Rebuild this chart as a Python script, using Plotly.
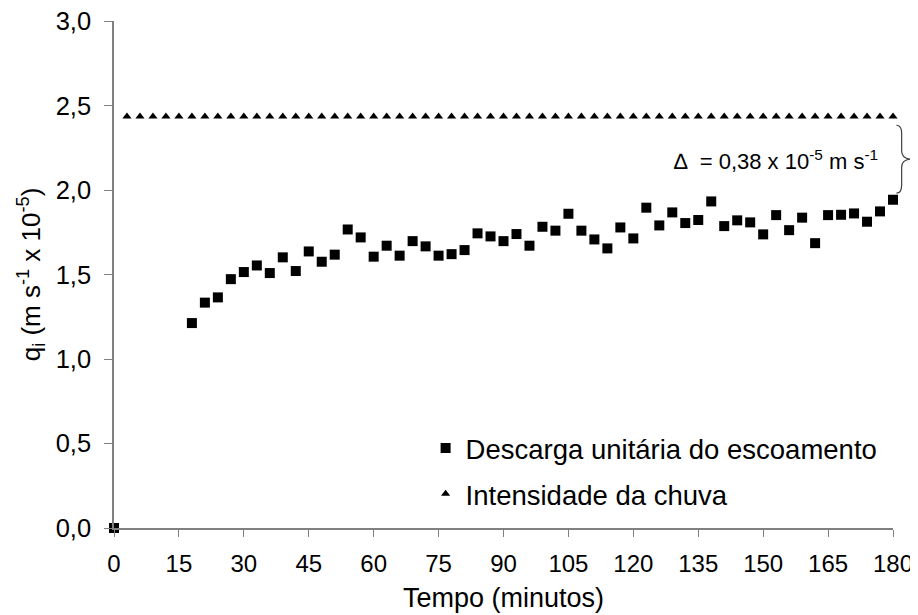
import plotly.graph_objects as go

# ---- data ----
tempo_descarga = [0] + list(range(18, 181, 3))
descarga = [0.0,
            1.213, 1.334, 1.365, 1.473, 1.515, 1.554, 1.509, 1.602, 1.521, 1.637,
            1.576, 1.618, 1.767, 1.720, 1.606, 1.671, 1.612, 1.698,
            1.667, 1.612, 1.621, 1.645, 1.744, 1.726, 1.698, 1.740, 1.671, 1.783,
            1.760, 1.860, 1.760, 1.708, 1.655, 1.779, 1.714, 1.896, 1.791,
            1.868, 1.805, 1.823, 1.933, 1.787, 1.821, 1.809, 1.738, 1.852, 1.763,
            1.837, 1.686, 1.852, 1.854, 1.862, 1.813, 1.874, 1.943]
tempo_chuva = list(range(3, 181, 3))
chuva = [2.435] * len(tempo_chuva)

x_ticks = list(range(0, 181, 15))
y_ticks = [0, 0.5, 1.0, 1.5, 2.0, 2.5, 3.0]

x_max = 180
y_max = 3.0
brace_top = 2.383
brace_bottom = 1.982
delta_label = "∆  = 0,38 x 10<sup>-5</sup> m s<sup>-1</sup>"

FONT = "Liberation Sans, Arial, sans-serif"
AXIS_COLOR = "#808080"

fig = go.Figure()
fig.add_trace(go.Scatter(
    x=tempo_descarga, y=descarga, mode="markers",
    name="Descarga unitária do escoamento",
    marker=dict(symbol="square", size=10, color="black"),
    cliponaxis=False, legendgroup="a"))
fig.add_trace(go.Scatter(
    x=tempo_chuva, y=chuva, mode="markers",
    name="Intensidade da chuva",
    marker=dict(symbol="triangle-up", size=8, color="black"),
    cliponaxis=False, legendgroup="b"))

# brace "}" (paper coordinates so it is not clipped at the plot edge)
px0, px1, px2 = 180.8 / x_max, 182.0 / x_max, 184.4 / x_max
pt, pb = brace_top / y_max, brace_bottom / y_max
pm = (pt + pb) / 2
r = 0.016
path = (f"M {px0},{pt} Q {px1},{pt} {px1},{pt - r} "
        f"L {px1},{pm + r} Q {px1},{pm} {px2},{pm} "
        f"Q {px1},{pm} {px1},{pm - r} L {px1},{pb + r} "
        f"Q {px1},{pb} {px0},{pb}")
fig.add_shape(type="path", path=path, xref="paper", yref="paper",
              line=dict(color="#404040", width=1.2))

fig.add_annotation(x=177, y=2.176, xref="x", yref="y", text=delta_label,
                   showarrow=False, xanchor="right", yanchor="middle",
                   font=dict(family=FONT, size=22, color="black"))

# the page body adds an 8px offset, so the figure is 8px smaller on each side
fig.update_layout(
    width=910, height=607,
    margin=dict(l=106, r=25, t=13, b=87),
    paper_bgcolor="white", plot_bgcolor="white",
    separators=", ",
    font=dict(family=FONT, size=24, color="black"),
    showlegend=True,
    legend=dict(x=0.40, y=0.112, xanchor="left", yanchor="middle",
                font=dict(family=FONT, size=27.5, color="black"),
                bgcolor="rgba(0,0,0,0)", tracegroupgap=7,
                traceorder="grouped", itemwidth=30),
)
fig.update_xaxes(
    range=[0, x_max], tickvals=x_ticks, ticktext=[str(v) for v in x_ticks],
    showgrid=False, zeroline=False, showline=True, linecolor=AXIS_COLOR,
    linewidth=1.5, ticks="outside", ticklen=7, tickcolor=AXIS_COLOR,
    tickwidth=1.2, ticklabelstandoff=6, automargin=False,
    tickfont=dict(family=FONT, size=24, color="black"),
    title=dict(text="Tempo (minutos)", standoff=13,
               font=dict(family=FONT, size=27, color="black")))
fig.update_yaxes(
    range=[0, y_max + 0.001], tickvals=y_ticks,
    ticktext=[f"{v:.1f}".replace(".", ",") for v in y_ticks],
    showgrid=False, zeroline=False, showline=True, linecolor=AXIS_COLOR,
    linewidth=1.5, ticks="outside", ticklen=8, tickcolor=AXIS_COLOR,
    tickwidth=1.2, ticklabelstandoff=8, automargin=False,
    ticklabeloverflow="allow",
    tickfont=dict(family=FONT, size=25.5, color="black"),
    title=dict(text="q<sub>i</sub> (m s<sup>-1</sup> x 10<sup>-5</sup>)", standoff=8,
               font=dict(family=FONT, size=26, color="black")))

fig.write_html("out.html")
